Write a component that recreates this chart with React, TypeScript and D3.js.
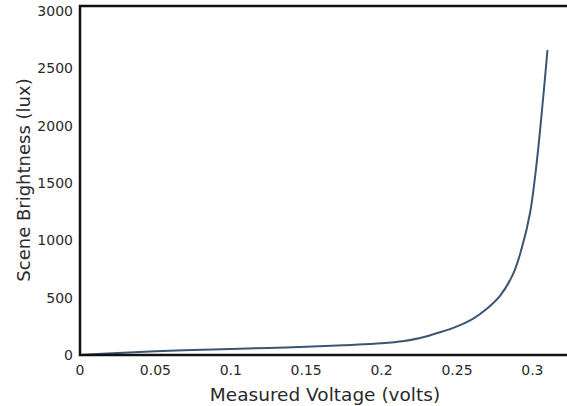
import React from "react";
import * as d3 from "d3";

const voltage = [0, 0.025, 0.05, 0.075, 0.1, 0.125, 0.15, 0.175, 0.2, 0.215, 0.2255, 0.2387, 0.25, 0.2608, 0.27, 0.2785, 0.2874, 0.2929, 0.2984, 0.3028, 0.3072, 0.31];
const brightness = [0, 18, 33, 43, 52, 62, 72, 86, 102, 122, 148, 198, 250, 318, 405, 515, 712, 930, 1236, 1672, 2252, 2660];
const xTicks = [0, 0.05, 0.1, 0.15, 0.2, 0.25, 0.3];
const yTicks = [0, 500, 1000, 1500, 2000, 2500, 3000];

const W = 567;
const H = 406;
const left = 80;
const bottom = 355;
const top = 6;

export default function App() {
  const x = d3.scaleLinear().domain([0, 0.3]).range([left, left + 0.3 * 1508]);
  const y = d3.scaleLinear().domain([0, 3000]).range([bottom, 11]);
  const pts = voltage.map((v, i) => [v, brightness[i]] as [number, number]);
  const line = d3
    .line<[number, number]>()
    .x((d) => x(d[0]))
    .y((d) => y(d[1]))
    .curve(d3.curveCatmullRom.alpha(0.5));
  const font = "'DejaVu Sans', Verdana, sans-serif";
  return (
    <svg
      width={W}
      height={H}
      style={{ position: "absolute", left: 0, top: 0, background: "#fff" }}
      fontFamily={font}
    >
      <path d={line(pts) || ""} fill="none" stroke="#3b5672" strokeWidth={2} />
      <path
        d={`M${W + 5},${top} H${left} V${bottom} H${W + 5}`}
        fill="none"
        stroke="#111"
        strokeWidth={2.5}
      />
      {yTicks.map((t) => (
        <text key={t} x={73} y={y(t)} dy="0.35em" textAnchor="end" fontSize={14} fill="#2a2a2a">
          {t}
        </text>
      ))}
      {xTicks.map((t) => (
        <text key={t} x={x(t)} y={375} textAnchor="middle" fontSize={14} fill="#2a2a2a">
          {t}
        </text>
      ))}
      <text x={325} y={401} textAnchor="middle" fontSize={18.5} fill="#2a2a2a">
        Measured Voltage (volts)
      </text>
      <text
        transform={`translate(30,180) rotate(-90)`}
        textAnchor="middle"
        fontSize={18}
        fill="#2a2a2a"
      >
        Scene Brightness (lux)
      </text>
    </svg>
  );
}
